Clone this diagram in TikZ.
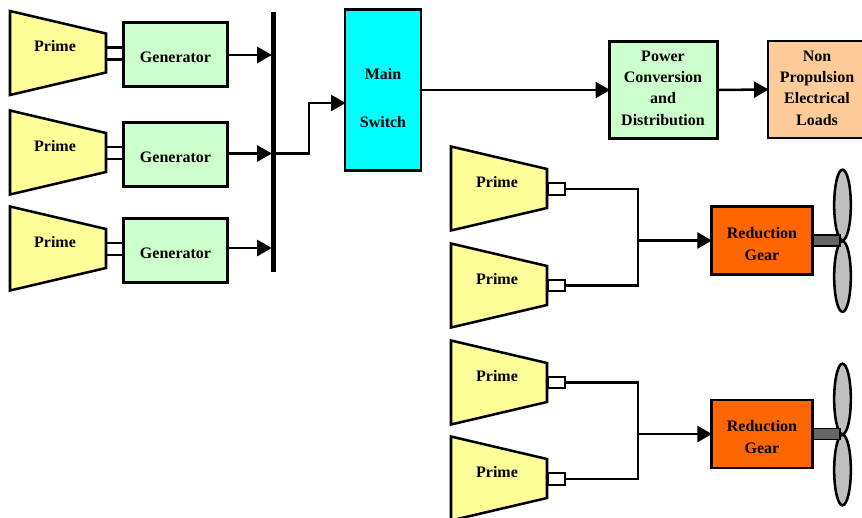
\documentclass[tikz,border=0pt]{standalone}
\usepackage{fontspec}
\setmainfont{Liberation Serif}
\usetikzlibrary{arrows.meta,shapes.geometric}

\definecolor{primefill}{RGB}{255,255,153}
\definecolor{genfill}{RGB}{204,255,204}
\definecolor{switchfill}{RGB}{0,255,255}
\definecolor{loadfill}{RGB}{255,204,153}
\definecolor{gearfill}{RGB}{255,102,0}

\tikzset{
  every node/.style={font=\fontsize{12}{14}\selectfont\bfseries,align=center,inner sep=0pt,outer sep=0pt},
  wire/.style={line width=1.9pt},
  flow/.style={wire,-{Triangle[length=11pt,width=12pt]},shorten >=-0.5pt},
  box/.style={draw=black,line width=1.9pt},
  prime/.style={box,fill=primefill,trapezium,shape border rotate=270,trapezium left angle=60,trapezium right angle=60,trapezium stretches=true,inner sep=2pt,minimum width=63pt,minimum height=72pt},
  generator/.style={box,fill=genfill,text height=12pt,minimum width=78pt,minimum height=48pt},
  gear/.style={box,fill=gearfill,minimum width=76pt,minimum height=51pt},
  spout/.style={box,fill=white,line width=1.5pt,minimum width=12.5pt,minimum height=8.5pt},
  blade/.style={box,fill=black!25,ellipse,minimum width=12.5pt,minimum height=53pt},
  stub/.style={box,fill=black!60,line width=1.2pt,minimum width=20pt,minimum height=8pt}
}

\begin{document}
\begin{tikzpicture}[x=0.75pt,y=-0.75pt]
\useasboundingbox (0,0) rectangle (862,517);
\clip (0,0) rectangle (862,517);

% generator sets
\node[prime] (p1) at (58,53) {};
\node[prime] (p2) at (58,152.5) {};
\node[prime] (p3) at (58,248.5) {};
\node (p1t) at (55,46) {Prime};
\node (p2t) at (55,146) {Prime};
\node (p3t) at (55,242) {Prime};
\node[generator] (g1) at (175.5,54.5) {Generator};
\node[generator] (g2) at (175.5,154.5) {Generator};
\node[generator] (g3) at (175.5,250.5) {Generator};

\draw[wire] (p1.east |- 0,47.5) -- (g1.west |- 0,47.5);
\draw[wire] (p1.east |- 0,59.5) -- (g1.west |- 0,59.5);
\draw[wire] (p2.east |- 0,147) -- (g2.west |- 0,147);
\draw[wire] (p2.east |- 0,159) -- (g2.west |- 0,159);
\draw[wire] (p3.east |- 0,243) -- (g3.west |- 0,243);
\draw[wire] (p3.east |- 0,255) -- (g3.west |- 0,255);

% bus and main switch
\node[fill=black,minimum width=3.6pt,minimum height=195pt] (bus) at (273.6,142) {};
\node[box,fill=switchfill,minimum width=57pt,minimum height=121pt] (switch) at (383,90) {};
\node (switcha) at (383,74) {Main};
\node (switchb) at (383,122) {Switch};

\draw[flow] (g1.east |- 0,55) -- (bus.west |- 0,55);
\draw[flow] (g2.east |- 0,153.5) -- (bus.west |- 0,153.5);
\draw[flow] (g3.east |- 0,248) -- (bus.west |- 0,248);
\draw[flow] (bus.east |- 0,153.5) -| (309,103) -- (switch.west |- 0,103);

% electrical side
\node[box,fill=genfill,minimum width=81pt,minimum height=73pt] (power) at (663.5,90) {};
\node (powert) at (663,88) {Power\\[2pt]Conversion\\[2pt]and\\[2pt]Distribution};
\node[box,fill=loadfill,minimum width=72pt,minimum height=73pt] (loads) at (816,89.5) {};
\node (loadst) at (817,88) {Non\\[2pt]Propulsion\\[2pt]Electrical\\[2pt]Loads};

\draw[flow] (switch.east |- power) -- (power.west);
\draw[flow] (power.east) -- (loads.west);

% first propulsion train
\node[prime] (p4) at (499,188.5) {};
\node[prime] (p5) at (499,285.5) {};
\node (p4t) at (497,182) {Prime};
\node (p5t) at (497,279) {Prime};
\node[spout] (s4) at (556.5,189) {};
\node[spout] (s5) at (556.5,285.5) {};
\coordinate (j1) at (638,240.5);
\node[gear] (r1) at (762,240.5) {};
\node (r1t) at (762,244) {Reduction\\[2.5pt]Gear};
\node[blade] (b1) at (842.5,205) {};
\node[blade] (b2) at (842.5,276.5) {};
\node[stub] (t1) at (826.5,240.5) {};

\draw[wire] (s4.east) -| (j1);
\draw[wire] (s5.east) -| (j1);
\draw[flow] (j1) -- (r1.west);

% second propulsion train
\node[prime] (p6) at (499,382.5) {};
\node[prime] (p7) at (499,478.5) {};
\node (p6t) at (497,376) {Prime};
\node (p7t) at (497,472) {Prime};
\node[spout] (s6) at (556.5,382.5) {};
\node[spout] (s7) at (556.5,479) {};
\coordinate (j2) at (638,434);
\node[gear] (r2) at (762,434) {};
\node (r2t) at (762,437.5) {Reduction\\[2.5pt]Gear};
\node[blade] (b3) at (842.5,399) {};
\node[blade] (b4) at (842.5,470) {};
\node[stub] (t2) at (826.5,434) {};

\draw[wire] (s6.east) -| (j2);
\draw[wire] (s7.east) -| (j2);
\draw[flow] (j2) -- (r2.west);
\end{tikzpicture}
\end{document}
